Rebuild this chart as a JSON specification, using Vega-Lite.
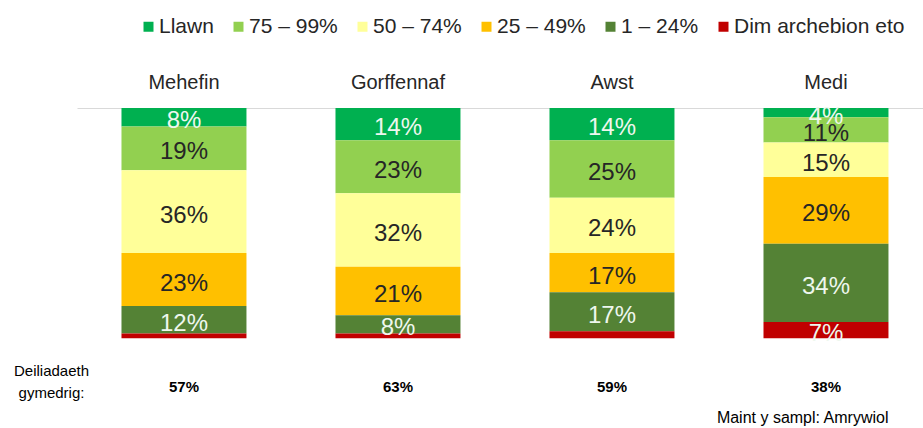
{
  "$schema": "https://vega.github.io/schema/vega-lite/v6.json",
  "width": 846,
  "height": 320,
  "autosize": {"type": "none"},
  "padding": {"left": 77, "top": 108, "right": 0, "bottom": 0},
  "background": "white",
  "config": {"view": {"stroke": null}, "font": "Liberation Sans"},
  "datasets": {
    "seg": [
      {"month": "Mehefin", "cat": "Llawn", "ord": 6, "value": 0.08},
      {"month": "Mehefin", "cat": "75 – 99%", "ord": 5, "value": 0.19},
      {"month": "Mehefin", "cat": "50 – 74%", "ord": 4, "value": 0.36},
      {"month": "Mehefin", "cat": "25 – 49%", "ord": 3, "value": 0.23},
      {"month": "Mehefin", "cat": "1 – 24%", "ord": 2, "value": 0.12},
      {"month": "Mehefin", "cat": "Dim archebion eto", "ord": 1, "value": 0.02},
      {"month": "Gorffennaf", "cat": "Llawn", "ord": 6, "value": 0.14},
      {"month": "Gorffennaf", "cat": "75 – 99%", "ord": 5, "value": 0.23},
      {"month": "Gorffennaf", "cat": "50 – 74%", "ord": 4, "value": 0.32},
      {"month": "Gorffennaf", "cat": "25 – 49%", "ord": 3, "value": 0.21},
      {"month": "Gorffennaf", "cat": "1 – 24%", "ord": 2, "value": 0.08},
      {"month": "Gorffennaf", "cat": "Dim archebion eto", "ord": 1, "value": 0.02},
      {"month": "Awst", "cat": "Llawn", "ord": 6, "value": 0.14},
      {"month": "Awst", "cat": "75 – 99%", "ord": 5, "value": 0.25},
      {"month": "Awst", "cat": "50 – 74%", "ord": 4, "value": 0.24},
      {"month": "Awst", "cat": "25 – 49%", "ord": 3, "value": 0.17},
      {"month": "Awst", "cat": "1 – 24%", "ord": 2, "value": 0.17},
      {"month": "Awst", "cat": "Dim archebion eto", "ord": 1, "value": 0.03},
      {"month": "Medi", "cat": "Llawn", "ord": 6, "value": 0.04},
      {"month": "Medi", "cat": "75 – 99%", "ord": 5, "value": 0.11},
      {"month": "Medi", "cat": "50 – 74%", "ord": 4, "value": 0.15},
      {"month": "Medi", "cat": "25 – 49%", "ord": 3, "value": 0.29},
      {"month": "Medi", "cat": "1 – 24%", "ord": 2, "value": 0.34},
      {"month": "Medi", "cat": "Dim archebion eto", "ord": 1, "value": 0.07}
    ],
    "avg": [
      {"month": "Mehefin", "avg": 0.57},
      {"month": "Gorffennaf", "avg": 0.63},
      {"month": "Awst", "avg": 0.59},
      {"month": "Medi", "avg": 0.38}
    ],
    "note": [
      {"month": "Medi", "text": "Maint y sampl: Amrywiol"}
    ]
  },
  "layer": [
    {
      "data": {"name": "seg"},
      "mark": {"type": "bar", "strokeWidth": 0},
      "encoding": {
        "x": {
          "field": "month", "type": "nominal",
          "sort": ["Mehefin", "Gorffennaf", "Awst", "Medi"],
          "scale": {"paddingInner": 0.416, "paddingOuter": 0.1846, "align": 0.563},
          "axis": {"orient": "top", "title": null, "ticks": false, "tickSize": 0, "labelPadding": 16, "labelFontSize": 20, "labelColor": "#262626", "domainColor": "#d9d9d9", "domainWidth": 1, "labelAngle": 0, "grid": false, "labelFont": "Liberation Sans"}
        },
        "y": {
          "field": "value", "type": "quantitative", "stack": "zero",
          "scale": {"domain": [-0.39, 1], "nice": false, "zero": false},
          "axis": {"title": ["Deiliadaeth", "gymedrig:"], "titleAngle": 0, "titleX": -26, "titleY": 267, "titleAlign": "center", "titleBaseline": "alphabetic", "titleFontSize": 15, "titleFontWeight": "normal", "titleLineHeight": 22, "titleColor": "#000000", "titleFont": "Liberation Sans", "labels": false, "ticks": false, "domain": false, "grid": false}
        },
        "color": {
          "field": "cat", "type": "nominal",
          "scale": {
            "domain": ["Llawn", "75 – 99%", "50 – 74%", "25 – 49%", "1 – 24%", "Dim archebion eto"],
            "range": ["#00B050", "#92D050", "#FFFF99", "#FFC000", "#548235", "#C00000"]
          },
          "legend": {"orient": "none", "legendX": 61, "legendY": -92, "direction": "horizontal", "columns": 6, "title": null, "symbolType": "square", "symbolSize": 100, "symbolStrokeWidth": 0, "symbolOpacity": 1, "labelFontSize": 21, "labelOffset": 0, "labelLimit": 400, "columnPadding": 14, "labelColor": "#262626", "padding": 0, "labelFont": "Liberation Sans"}
        },
        "order": {"field": "ord", "type": "quantitative"}
      }
    },
    {
      "data": {"name": "seg"},
      "mark": {"type": "text", "fontSize": 24, "baseline": "middle", "align": "center", "dy": 4},
      "encoding": {
        "x": {"field": "month", "type": "nominal", "sort": ["Mehefin", "Gorffennaf", "Awst", "Medi"]},
        "y": {"field": "value", "type": "quantitative", "stack": "zero", "bandPosition": 0.5},
        "order": {"field": "ord", "type": "quantitative"},
        "text": {"condition": {"test": "datum.value < 0.04", "value": ""}, "field": "value", "type": "quantitative", "format": ".0%"},
        "color": {"condition": {"test": "datum.ord == 6 || datum.ord <= 2", "value": "#EEF7EE"}, "value": "#262626"}
      }
    },
    {
      "data": {"name": "avg"},
      "mark": {"type": "text", "fontSize": 15, "fontWeight": "bold", "baseline": "alphabetic", "align": "center", "color": "#000000"},
      "encoding": {
        "x": {"field": "month", "type": "nominal", "sort": ["Mehefin", "Gorffennaf", "Awst", "Medi"]},
        "y": {"datum": -0.232, "type": "quantitative"},
        "text": {"field": "avg", "type": "quantitative", "format": ".0%"}
      }
    },
    {
      "data": {"name": "note"},
      "mark": {"type": "text", "fontSize": 16, "baseline": "alphabetic", "align": "right", "color": "#000000"},
      "encoding": {
        "x": {"field": "month", "type": "nominal", "sort": ["Mehefin", "Gorffennaf", "Awst", "Medi"], "bandPosition": 1},
        "y": {"datum": -0.369, "type": "quantitative"},
        "text": {"field": "text", "type": "nominal"}
      }
    }
  ]
}
